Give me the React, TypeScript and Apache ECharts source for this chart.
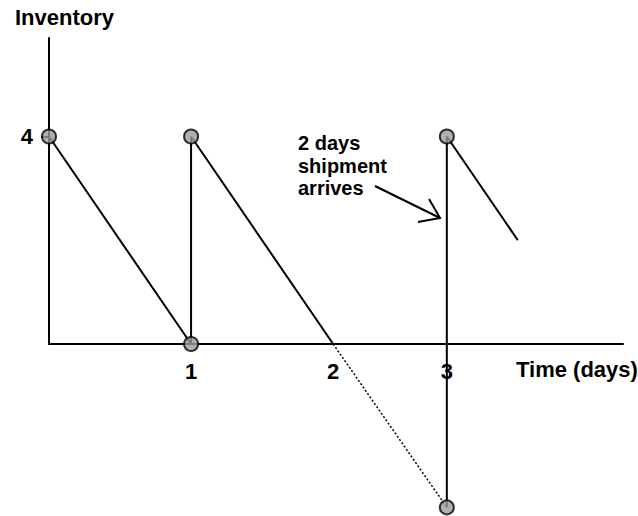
import React, { useEffect, useRef } from "react";
import * as echarts from "echarts";

// Inventory level over time (x in days as drawn, y in units)
const stockCycleA: [number, number][] = [
  [0, 4],
  [1, 0],
  [1, 4],
  [2, 0],
];
const stockCycleB: [number, number][] = [
  [2.8, -3.15],
  [2.8, 4],
  [3.3, 2],
];
const projectedDecline: [number, number][] = [
  [2, 0],
  [2.8, -3.15],
];
const markedPoints: [number, number][] = [
  [0, 4],
  [1, 0],
  [1, 4],
  [2.8, -3.15],
  [2.8, 4],
];

const timeTickValues = [1, 2, 2.8];
const timeTickLabels = ["1", "2", "3"];
const inventoryTickValues = [4];
const inventoryTickLabels = ["4"];
const annotationLines = ["2 days", "shipment", "arrives"];

const xMax = 4.04;
const yMax = 5.9;

const FONT = "'Liberation Sans', Arial, Helvetica, sans-serif";

export default function App() {
  const ref = useRef<HTMLDivElement>(null);

  useEffect(() => {
    if (!ref.current) return;
    const chart = echarts.init(ref.current, undefined, { renderer: "svg" });

    const lineStyle = { color: "#000", width: 2 };

    const annotationTexts = annotationLines.map((t, i) => ({
      type: "text",
      left: 298,
      top: 133 + i * 22.5,
      style: {
        text: t,
        fill: "#000",
        font: `bold 20px ${FONT}`,
        lineHeight: 20,
      },
    }));

    chart.setOption({
      animation: false,
      backgroundColor: "#fff",
      grid: { left: 49, top: 38, right: 15, bottom: 172, containLabel: false },
      xAxis: {
        type: "value",
        min: 0,
        max: xMax,
        splitLine: { show: false },
        axisLine: { show: true, lineStyle: { color: "#000", width: 2 } },
        axisTick: { show: false },
        axisLabel: {
          customValues: timeTickValues,
          margin: 16,
          color: "#000",
          fontSize: 22,
          fontWeight: "bold",
          fontFamily: FONT,
          formatter: (v: number) => {
            const i = timeTickValues.findIndex((t) => Math.abs(t - v) < 1e-6);
            return i >= 0 ? timeTickLabels[i] : "";
          },
        },
      },
      yAxis: {
        type: "value",
        min: 0,
        max: yMax,
        splitLine: { show: false },
        axisLine: { show: true, lineStyle: { color: "#000", width: 2 } },
        axisTick: {
          show: true,
          customValues: inventoryTickValues,
          length: 8,
          lineStyle: { color: "#000", width: 2 },
        },
        axisLabel: {
          customValues: inventoryTickValues,
          margin: 16,
          color: "#000",
          fontSize: 22,
          fontWeight: "bold",
          fontFamily: FONT,
          formatter: (v: number) => {
            const i = inventoryTickValues.findIndex((t) => Math.abs(t - v) < 1e-6);
            return i >= 0 ? inventoryTickLabels[i] : "";
          },
        },
      },
      series: [
        {
          type: "line",
          data: stockCycleA,
          symbol: "none",
          clip: false,
          lineStyle,
          z: 3,
        },
        {
          type: "line",
          data: stockCycleB,
          symbol: "none",
          clip: false,
          lineStyle,
          z: 3,
        },
        {
          type: "line",
          data: projectedDecline,
          symbol: "none",
          clip: false,
          lineStyle: { color: "#000", width: 1.5, type: [2, 2] },
          z: 2,
        },
        {
          type: "scatter",
          data: markedPoints,
          symbol: "circle",
          symbolSize: 14,
          clip: false,
          itemStyle: { color: "#9c9c9c", borderColor: "#000", borderWidth: 2 },
          z: 5,
        },
      ],
      graphic: [
        {
          type: "text",
          left: 15,
          top: 6,
          style: {
            text: "Inventory",
            fill: "#000",
            font: `bold 22px ${FONT}`,
          },
        },
        {
          type: "text",
          left: 516,
          top: 358,
          style: {
            text: "Time (days)",
            fill: "#000",
            font: `bold 22px ${FONT}`,
          },
        },
        ...annotationTexts,
        {
          type: "line",
          shape: { x1: 375, y1: 186, x2: 440, y2: 218 },
          style: { stroke: "#000", lineWidth: 2 },
        },
        {
          type: "polyline",
          shape: {
            points: [
              [429, 199],
              [440, 218],
              [418, 222],
            ],
          },
          style: { stroke: "#000", lineWidth: 2, fill: null },
        },
      ],
    });

    return () => chart.dispose();
  }, []);

  return (
    <div
      ref={ref}
      style={{ position: "fixed", left: 0, top: 0, width: 638, height: 516 }}
    />
  );
}
